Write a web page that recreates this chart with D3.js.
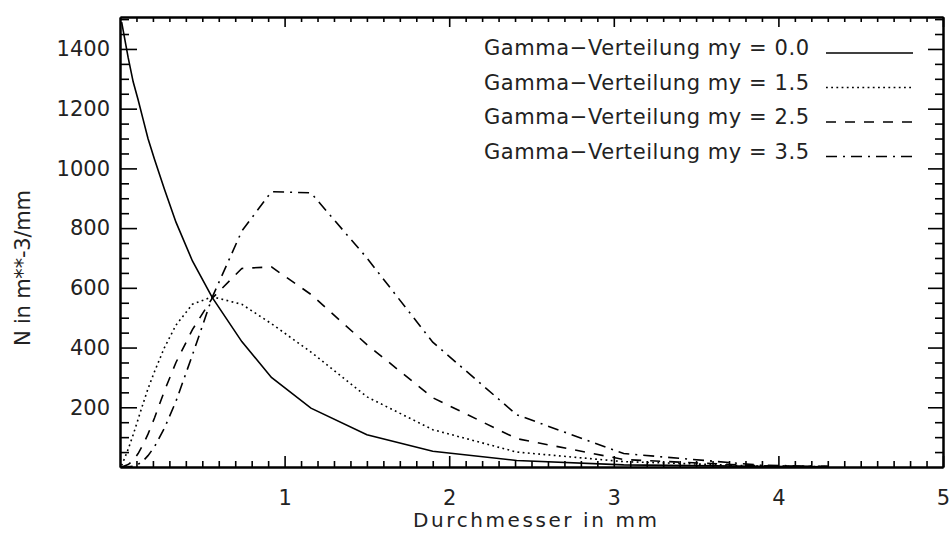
<!DOCTYPE html>
<html>
<head>
<meta charset="utf-8">
<script src="https://cdnjs.cloudflare.com/ajax/libs/d3/7.8.5/d3.min.js"></script>
<style>
  body { margin: 0; background: #fff; }
  text { font-family: "DejaVu Sans", sans-serif; fill: #222; }
</style>
</head>
<body>
<div id="viz"></div>
<script>
// diameter grid (mm) and number concentration N (m**-3/mm)
var diameters = [0.01, 0.05, 0.08, 0.11, 0.14, 0.17, 0.21, 0.27, 0.34, 0.44, 0.56, 0.74, 0.92, 1.16, 1.5, 1.9, 2.41, 3.06, 3.89, 4.3];
var nMy00 = [1490, 1370, 1290, 1230, 1165, 1100, 1030, 930, 820, 690, 568, 420, 300, 197, 108, 53, 22, 7, 2, 1];
var nMy15 = [5, 60, 108, 160, 212, 262, 320, 400, 475, 545, 570, 545, 480, 385, 235, 125, 50, 18, 3, 1];
var nMy25 = [0, 8, 22, 45, 75, 110, 165, 255, 350, 460, 565, 665, 670, 578, 410, 232, 95, 25, 4, 2];
var nMy35 = [0, 1, 3, 9, 20, 38, 68, 130, 220, 375, 568, 790, 922, 918, 700, 418, 175, 45, 6, 2];

var legendLabels = [
  "Gamma\u2212Verteilung my = 0.0",
  "Gamma\u2212Verteilung my = 1.5",
  "Gamma\u2212Verteilung my = 2.5",
  "Gamma\u2212Verteilung my = 3.5",
];
var xTickValues = [1, 2, 3, 4, 5];
var yTickValues = [200, 400, 600, 800, 1000, 1200, 1400];

var width = 951,
  height = 534;
var plot = { left: 120, right: 943, top: 17, bottom: 467 };

var svg = d3
  .select("#viz")
  .append("svg")
  .attr("width", width)
  .attr("height", height);

var xScale = d3.scaleLinear().domain([0, 5]).range([plot.left, plot.right]);
var yScale = d3.scaleLinear().domain([0, 1507]).range([plot.bottom, plot.top]);

var xMinor = d3.range(0, 50).map(function (i) { return i / 10; }).filter(function (v) { return Math.round(v * 10) % 10 != 0; });
var yMinor = d3.range(50, 1507, 50).filter(function (v) { return v % 200 != 0; });

// inward ticks on all four sides, like IDL box axes
var addAxis = function (axis, transform, labels) {
  var g = svg
    .append("g")
    .attr("class", "axis")
    .attr("transform", transform)
    .call(axis);
  g.selectAll("path.domain").attr("stroke", "#000").attr("stroke-width", 2);
  g.selectAll(".tick line").attr("stroke", "#000").attr("stroke-width", 1.6);
  g.selectAll(".tick text").style("font-size", "21px").attr("fill", "#222");
  if (!labels) g.selectAll(".tick text").remove();
  return g;
};

addAxis(d3.axisBottom(xScale).tickValues(xTickValues).tickFormat(d3.format("d")).tickSizeInner(-11).tickSizeOuter(0).tickPadding(23),
  "translate(0," + plot.bottom + ")", true);
addAxis(d3.axisBottom(xScale).tickValues(xMinor).tickSizeInner(-6).tickSizeOuter(0),
  "translate(0," + plot.bottom + ")", false);
addAxis(d3.axisTop(xScale).tickValues(xTickValues).tickSizeInner(-10).tickSizeOuter(0),
  "translate(0," + plot.top + ")", false);
addAxis(d3.axisTop(xScale).tickValues(xMinor).tickSizeInner(-5).tickSizeOuter(0),
  "translate(0," + plot.top + ")", false);

addAxis(d3.axisLeft(yScale).tickValues(yTickValues).tickFormat(d3.format("d")).tickSizeInner(-17).tickSizeOuter(0).tickPadding(10),
  "translate(" + plot.left + ",0)", true);
addAxis(d3.axisLeft(yScale).tickValues(yMinor).tickSizeInner(-9).tickSizeOuter(0),
  "translate(" + plot.left + ",0)", false);
addAxis(d3.axisRight(yScale).tickValues(yTickValues).tickSizeInner(-15).tickSizeOuter(0),
  "translate(" + plot.right + ",0)", false);
addAxis(d3.axisRight(yScale).tickValues(yMinor).tickSizeInner(-8).tickSizeOuter(0),
  "translate(" + plot.right + ",0)", false);

// axis titles
svg
  .append("text")
  .attr("x", 535)
  .attr("y", 527)
  .attr("text-anchor", "middle")
  .attr("textLength", 244)
  .style("font-size", "20px")
  .text("Durchmesser in mm");

svg
  .append("text")
  .attr("transform", "translate(30,268) rotate(-90)")
  .attr("text-anchor", "middle")
  .attr("textLength", 156)
  .style("font-size", "21px")
  .text("N in m**-3/mm");

var series = [nMy00, nMy15, nMy25, nMy35];
var dashes = [null, "1.8,3.4", "10,9", "11,6,2,6"];

var line = d3
  .line()
  .x(function (d) { return xScale(d[0]); })
  .y(function (d) { return yScale(d[1]); });

series.forEach(function (values, i) {
  svg
    .append("path")
    .datum(diameters.map(function (dd, j) { return [dd, values[j]]; }))
    .attr("d", line)
    .attr("fill", "none")
    .attr("stroke", "#000")
    .attr("stroke-width", 1.6)
    .attr("stroke-dasharray", dashes[i]);
});

// legend
legendLabels.forEach(function (label, i) {
  var y = 55 + i * 34.5;
  svg
    .append("text")
    .attr("x", 484)
    .attr("y", y)
    .attr("textLength", 325)
    .style("font-size", "21px")
    .text(label);
  svg
    .append("line")
    .attr("x1", 826)
    .attr("x2", 913)
    .attr("y1", y - 2)
    .attr("y2", y - 2)
    .attr("stroke", "#000")
    .attr("stroke-width", 1.6)
    .attr("stroke-dasharray", dashes[i]);
});
</script>
</body>
</html>
